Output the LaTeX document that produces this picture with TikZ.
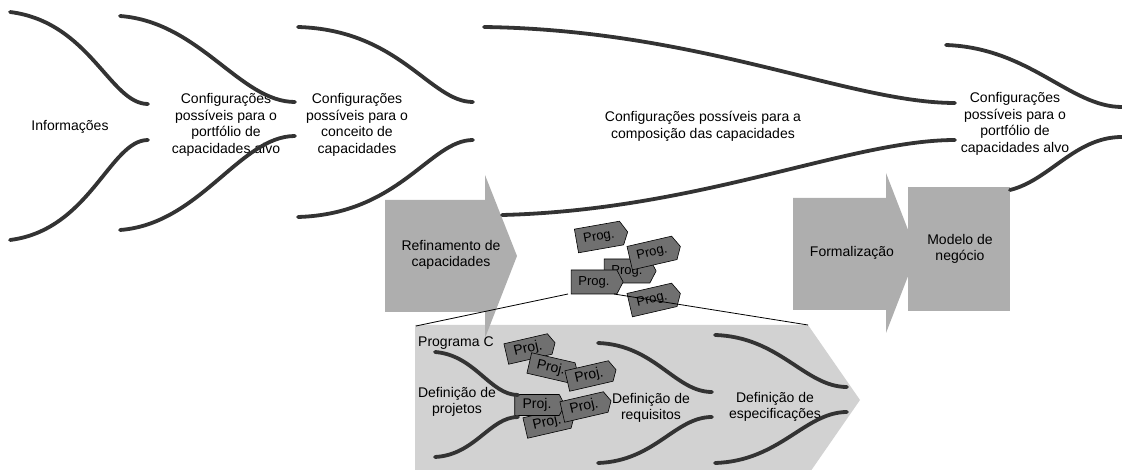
\documentclass[tikz,border=0pt]{standalone}
\usepackage{fontspec}
\setmainfont{Liberation Sans}
\usetikzlibrary{shapes.symbols}

\definecolor{curvegray}{HTML}{333333}
\definecolor{stepgray}{HTML}{AEAEAE}
\definecolor{panelgray}{HTML}{D2D2D2}
\definecolor{taggray}{HTML}{707070}

\tikzset{
  funnel/.style={curvegray, line width=3.8pt, line cap=round},
  lbl/.style={align=center, font=\fontsize{14}{16.7}\selectfont, inner sep=0pt},
  progtag/.style={signal, signal to=east, signal pointer angle=125, draw=black, line width=0.6pt,
    fill=taggray, minimum height=24pt, minimum width=52pt, inner sep=1pt, font=\fontsize{13}{15}\selectfont},
  projtag/.style={progtag, minimum height=21pt, minimum width=50pt, font=\fontsize{14}{16}\selectfont},
  zoomline/.style={black, line width=0.8pt},
}

\begin{document}
\begin{tikzpicture}[x=1pt,y=-1pt]
\useasboundingbox (0,0) rectangle (1122,470);
\clip (0,0) rectangle (1122,470);

% Programa C
\fill[panelgray] (415,325) -- (808,325) -- (860,400) -- (808,475) -- (415,475) -- cycle;

\fill[stepgray] (385,200) -- (485,200) -- (485,175) -- (517,256) -- (485,338) -- (485,312) -- (385,312) -- cycle;
\fill[stepgray] (793,198) -- (886,198) -- (886,173) -- (917,253) -- (886,333) -- (886,310) -- (793,310) -- cycle;
\fill[stepgray] (908,187) rectangle (1010,311);

\node[lbl] (info) at (70,127) {Informações};
\node[lbl] (cfg1) at (226,125) {Configurações\\possíveis para o\\portfólio de\\capacidades alvo};
\node[lbl] (cfg2) at (357,125) {Configurações\\possíveis para o\\conceito de\\capacidades};
\node[lbl] (cfg3) at (703,126) {Configurações possíveis para a\\composição das capacidades};
\node[lbl] (cfg4) at (1015,124) {Configurações\\possíveis para o\\portfólio de\\capacidades alvo};
\node[lbl] (refin) at (451,255) {Refinamento de\\capacidades};
\node[lbl] (formal) at (852,253) {Formalização};
\node[lbl] (modelo) at (960,249) {Modelo de\\negócio};

\draw[funnel] (10,12) .. controls (90,22) and (110,104) .. (148,104);
\draw[funnel] (10,240) .. controls (90,230) and (110,140) .. (148,140);
\draw[funnel] (120,16) .. controls (200,22) and (240,102) .. (295,102);
\draw[funnel] (120,230) .. controls (200,224) and (240,136) .. (295,136);
\draw[funnel] (298,27) .. controls (400,30) and (430,102) .. (473,102);
\draw[funnel] (298,217) .. controls (400,214) and (430,140) .. (473,140);
\draw[funnel] (484,27) .. controls (700,30) and (850,103) .. (955,103);
\draw[funnel] (502,215) .. controls (700,210) and (850,140) .. (955,140);
\draw[funnel] (946,45) .. controls (1030,48) and (1070,107) .. (1122,107);
\draw[funnel] (1010,190) .. controls (1050,180) and (1075,137) .. (1122,137);

\node[progtag, rotate=10] (prog1) at (599,237) {Prog.};
\node[progtag] (prog2) at (627,271) {Prog.};
\node[progtag, rotate=13] (prog3) at (652,253) {Prog.};
\node[progtag] (prog4) at (594,282) {Prog.};
\node[progtag, rotate=13] (prog5) at (652,300) {Prog.};

\coordinate (prog4-sw) at (568,294);
\coordinate (prog4-se) at (614,294);
\coordinate (pnl-nw) at (416,326);
\coordinate (pnl-ne) at (808,325);
\draw[zoomline] (prog4-sw) -- (pnl-nw);
\draw[zoomline] (prog4-se) -- (pnl-ne);

\node[lbl, anchor=west] (progc) at (418,343) {Programa C};
\node[lbl] (defproj) at (457,402) {Definição de\\projetos};
\node[lbl] (defreq) at (651,408) {Definição de\\requisitos};
\node[lbl] (defesp) at (775,407) {Definição de\\especificações};

\node[projtag, rotate=13] (proj1) at (528,349) {Proj.};
\node[projtag, rotate=-13] (proj2) at (551,368) {Proj.};
\node[projtag, rotate=13] (proj3) at (589,376) {Proj.};
\node[projtag, rotate=13] (proj6) at (547,423) {Proj.};
\node[projtag] (proj4) at (537,405) {Proj.};
\node[projtag, rotate=13] (proj5) at (584,407) {Proj.};

\draw[funnel] (435,352) .. controls (475,355) and (490,395) .. (518,395);
\draw[funnel] (435,457) .. controls (475,455) and (490,417) .. (518,417);
\draw[funnel] (598,343) .. controls (655,345) and (675,392) .. (712,392);
\draw[funnel] (598,463) .. controls (655,461) and (675,417) .. (712,417);
\draw[funnel] (715,335) .. controls (780,337) and (805,387) .. (847,387);
\draw[funnel] (715,463) .. controls (780,461) and (805,412) .. (847,412);

\end{tikzpicture}
\end{document}
